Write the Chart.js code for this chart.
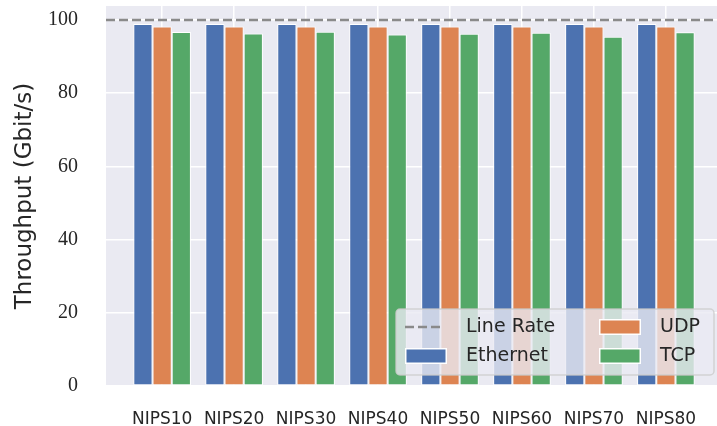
<!DOCTYPE html>
<html>
<head>
<meta charset="utf-8">
<script src="https://cdn.jsdelivr.net/npm/chart.js@4"></script>
<style>
  html, body { margin: 0; padding: 0; background: #fff; }
</style>
</head>
<body>
<canvas id="chart" width="717" height="426"></canvas>
<script>
// Throughput per configuration (Gbit/s)
const categories = ['NIPS10', 'NIPS20', 'NIPS30', 'NIPS40', 'NIPS50', 'NIPS60', 'NIPS70', 'NIPS80'];
const ethernet = [98.9, 98.9, 98.9, 98.9, 98.9, 98.9, 98.9, 98.9];
const udp = [98.2, 98.2, 98.2, 98.2, 98.2, 98.2, 98.2, 98.2];
const tcp = [96.7, 96.3, 96.8, 96.0, 96.2, 96.5, 95.4, 96.6];
const lineRate = 100;
const yTicks = [0, 20, 40, 60, 80, 100];

const seriesNames = ['Ethernet', 'UDP', 'TCP'];
const seriesColors = ['#4C72B0', '#DD8452', '#55A868'];
const textColor = '#262626';

function toPoints(values) {
  return values.map((v, i) => ({ x: i, y: v }));
}

// grey plot background like seaborn darkgrid
const backgroundPlugin = {
  id: 'plotBackground',
  beforeDraw(chart) {
    const { ctx, chartArea: a } = chart;
    ctx.save();
    ctx.fillStyle = '#EAEAF2';
    ctx.fillRect(a.left, a.top, a.right - a.left, a.bottom - a.top);
    ctx.restore();
  }
};

// dashed line rate + legend box
const overlayPlugin = {
  id: 'overlay',
  afterDatasetsDraw(chart) {
    const { ctx, chartArea: a, scales } = chart;
    const y = scales.y.getPixelForValue(lineRate);
    ctx.save();
    ctx.strokeStyle = '#8a8a8a';
    ctx.lineWidth = 2.5;
    ctx.setLineDash([9, 4]);
    ctx.beginPath();
    ctx.moveTo(a.left, y);
    ctx.lineTo(a.right, y);
    ctx.stroke();
    ctx.restore();

    // legend
    const bx = a.right - 321, by = a.bottom - 77, bw = 318, bh = 66;
    ctx.save();
    ctx.fillStyle = 'rgba(234,234,242,0.8)';
    ctx.strokeStyle = 'rgba(204,204,204,0.8)';
    ctx.lineWidth = 1.5;
    ctx.beginPath();
    ctx.roundRect(bx, by, bw, bh, 4);
    ctx.fill();
    ctx.stroke();

    ctx.font = '19px "DejaVu Sans"';
    ctx.fillStyle = textColor;
    ctx.textBaseline = 'middle';
    const row1 = by + 18, row2 = by + 47;

    ctx.strokeStyle = '#8a8a8a';
    ctx.lineWidth = 2.5;
    ctx.setLineDash([9, 4]);
    ctx.beginPath();
    ctx.moveTo(bx + 9, row1);
    ctx.lineTo(bx + 47, row1);
    ctx.stroke();
    ctx.setLineDash([]);
    ctx.fillText('Line Rate', bx + 70, row1);

    const entries = [
      { i: 0, x: bx + 9, y: row2 },
      { i: 1, x: bx + 203, y: row1 },
      { i: 2, x: bx + 203, y: row2 }
    ];
    entries.forEach(e => {
      ctx.fillStyle = '#ffffff';
      ctx.fillRect(e.x, e.y - 8, 42, 16);
      ctx.fillStyle = seriesColors[e.i];
      ctx.fillRect(e.x + 1.5, e.y - 6.5, 39, 13);
      ctx.fillStyle = textColor;
      ctx.fillText(seriesNames[e.i], e.x + 61, e.y);
    });
    ctx.restore();
  }
};

const datasets = [ethernet, udp, tcp].map((values, i) => ({
  label: seriesNames[i],
  data: toPoints(values),
  backgroundColor: seriesColors[i],
  borderColor: '#ffffff',
  borderWidth: 1,
  borderSkipped: false,
  categoryPercentage: 0.8,
  barPercentage: 1.0
}));

new Chart(document.getElementById('chart').getContext('2d'), {
  type: 'bar',
  data: { datasets: datasets },
  plugins: [backgroundPlugin, overlayPlugin],
  options: {
    responsive: false,
    animation: false,
    layout: { padding: { top: 6, right: 0, left: 0, bottom: 0 } },
    plugins: {
      legend: { display: false },
      tooltip: { enabled: false }
    },
    scales: {
      x: {
        type: 'linear',
        min: -0.78,
        max: 7.71,
        offset: false,
        afterFit(scale) {
          scale.height = 40;
          scale.paddingLeft = 0;
          scale.paddingRight = 0;
        },
        border: { display: false },
        grid: { color: '#ffffff', lineWidth: 1.5, drawTicks: false, offset: false },
        ticks: {
          stepSize: 1,
          includeBounds: false,
          padding: 23,
          color: textColor,
          font: { family: '"DejaVu Sans"', size: 17 },
          maxRotation: 0,
          autoSkip: false,
          callback: (v) => categories[v] ?? ''
        }
      },
      y: {
        min: yTicks[0],
        max: 103.8,
        afterFit(scale) {
          scale.width = 106;
          scale.paddingTop = 0;
          scale.paddingBottom = 0;
        },
        border: { display: false },
        grid: { color: '#ffffff', lineWidth: 1.5, drawTicks: false },
        ticks: {
          stepSize: 20,
          includeBounds: false,
          padding: 28,
          color: textColor,
          font: { family: '"Liberation Serif"', size: 20 }
        },
        title: {
          display: true,
          text: 'Throughput (Gbit/s)',
          color: textColor,
          font: { family: '"DejaVu Sans"', size: 23 },
          padding: { top: 11, bottom: 0 }
        }
      }
    }
  }
});
</script>
</body>
</html>
